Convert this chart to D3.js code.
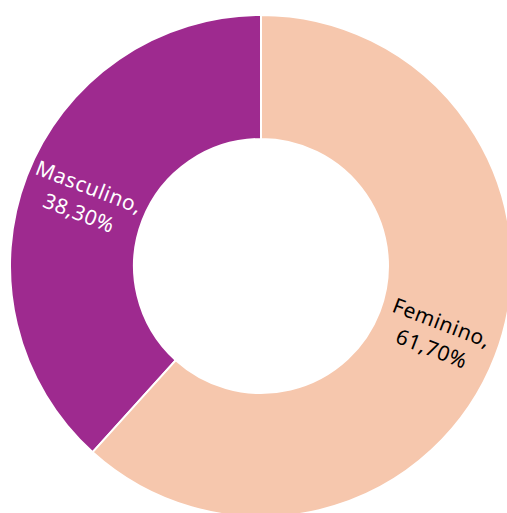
<!DOCTYPE html>
<html>
<head>
<meta charset="utf-8">
<script src="https://cdn.jsdelivr.net/npm/d3@7"></script>
<style>
  body { margin: 0; background: #fff; }
</style>
</head>
<body>
<div class="chart"></div>
<script>
var categories = ["Masculino", "Feminino"];
var values = [38.30, 61.70];
var labels = ["38,30%", "61,70%"];
var colors = ["#9e2a8f", "#f6c7ad"];
var textColors = ["#ffffff", "#000000"];

var w = 507;
var h = 513;
var cx = 261;
var cy = 266;
var outerR = 251;
var innerR = 127;

var svg = d3.select(".chart")
            .append("svg")
            .attr("width", w)
            .attr("height", h);

var g = svg.append("g")
           .attr("transform", "translate(" + cx + "," + cy + ")");

var data = categories.map(function(c, i) {
  return { name: c, value: values[i], label: labels[i], i: i };
});

var pie = d3.pie()
            .sort(null)
            .value(function(d) { return d.value; })
            .startAngle(-values[0] / 100 * 2 * Math.PI)
            .endAngle(2 * Math.PI - values[0] / 100 * 2 * Math.PI);

var arc = d3.arc()
            .innerRadius(innerR)
            .outerRadius(outerR);

var labelArc = d3.arc()
                 .innerRadius((innerR + outerR) / 2)
                 .outerRadius((innerR + outerR) / 2);

var arcs = pie(data);

g.selectAll("path")
  .data(arcs)
  .enter()
  .append("path")
  .attr("d", arc)
  .attr("fill", function(d) { return colors[d.data.i]; })
  .attr("stroke", "#ffffff")
  .attr("stroke-width", 2);

var texts = g.selectAll("text")
  .data(arcs)
  .enter()
  .append("text")
  .attr("transform", function(d) {
    var c = labelArc.centroid(d);
    var mid = (d.startAngle + d.endAngle) / 2 * 180 / Math.PI;
    var rot = mid - 90;
    if (rot > 90) rot -= 180;
    if (rot < -90) rot += 180;
    return "translate(" + c[0] + "," + c[1] + ") rotate(" + rot + ")";
  })
  .attr("text-anchor", "middle")
  .attr("font-family", "Noto Sans, sans-serif")
  .attr("font-size", "21px")
  .attr("letter-spacing", "0.6px")
  .attr("fill", function(d) { return textColors[d.data.i]; });

texts.append("tspan")
  .attr("x", 0)
  .attr("dy", "-0.22em")
  .text(function(d) { return d.data.name + ","; });

texts.append("tspan")
  .attr("x", 0)
  .attr("dy", "1.33em")
  .text(function(d) { return d.data.label; });
</script>
</body>
</html>
